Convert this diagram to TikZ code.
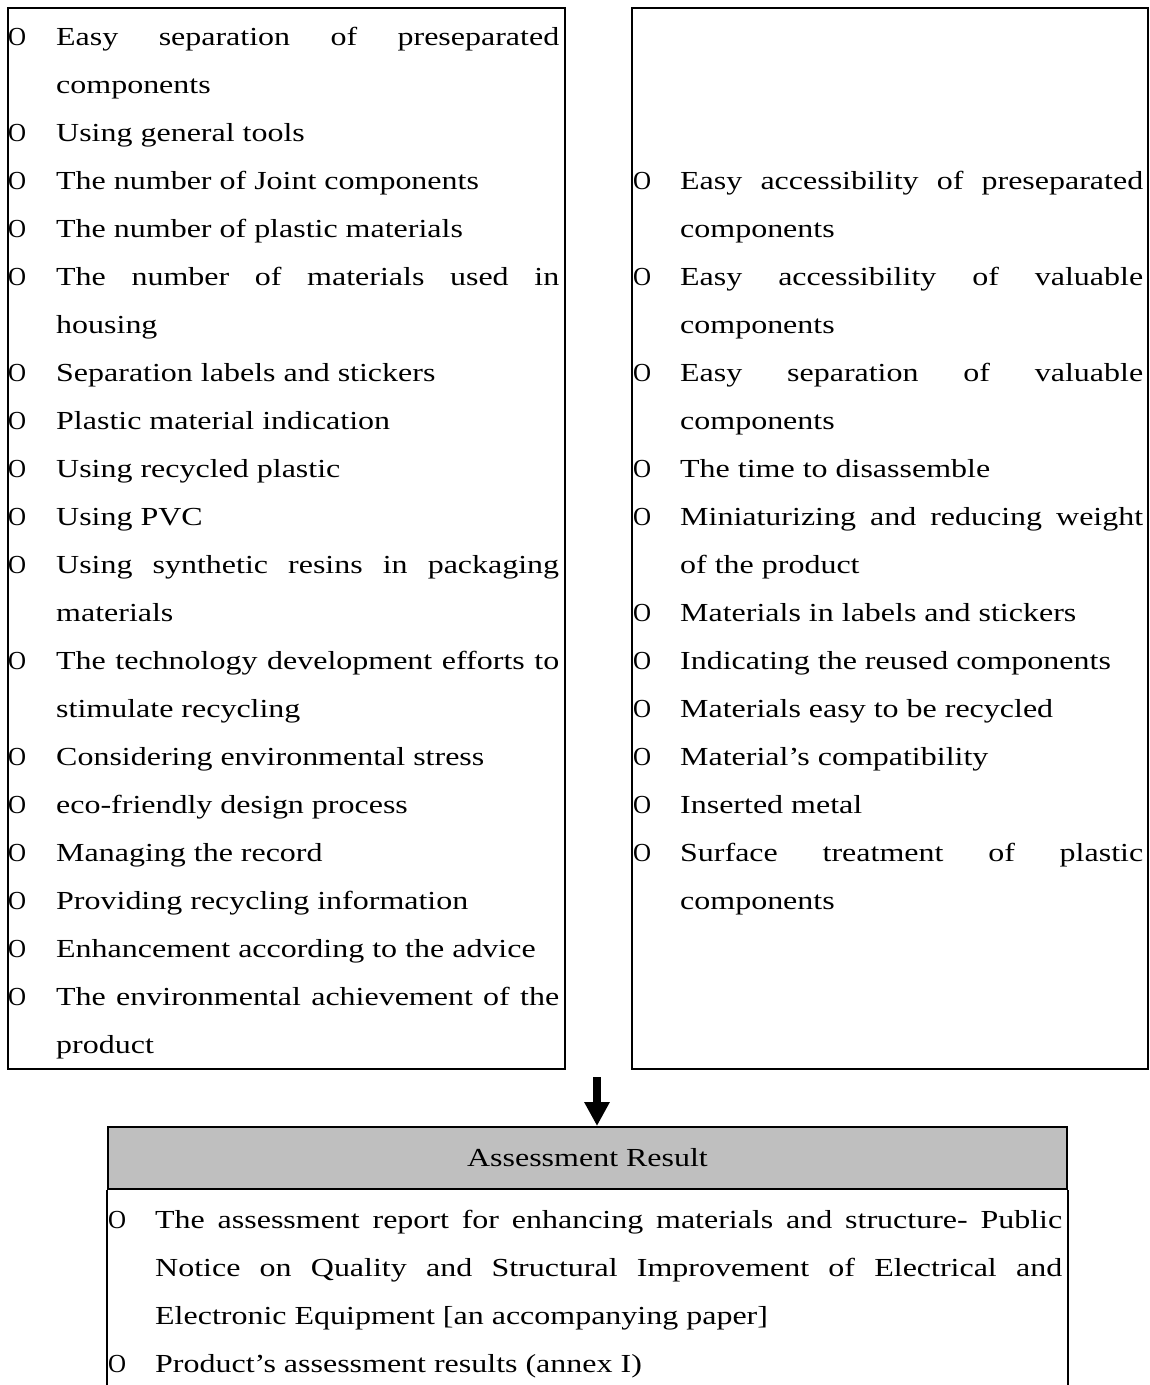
\documentclass[tikz,border=0pt]{standalone}
\usepackage{fontspec}
\setmainfont[FakeStretch=1.23]{Liberation Serif}
\usetikzlibrary{arrows.meta}
\newcommand\jus[2]{\hbox to #1pt{\spaceskip=0.25em plus 1fil\relax #2}}
\newcommand\bul{\scalebox{0.78}[1]{O}}
\begin{document}
\begin{tikzpicture}[x=1pt,y=-1pt,
  frame/.style={draw=black,line width=2pt,inner sep=0pt},
  txt/.style={anchor=base west,inner sep=0pt,font=\fontsize{26}{48}\selectfont},
  hdrbox/.style={draw=black,line width=2pt,fill=black!25,inner sep=0pt,minimum width=959pt,minimum height=62pt,font=\fontsize{26}{48}\selectfont}]
\useasboundingbox (0,0) rectangle (1150,1385);
% boxes
\node[frame,minimum width=557pt,minimum height=1061pt] (leftbox) at (286.5,538.5) {};
\node[frame,minimum width=516pt,minimum height=1061pt] (rightbox) at (890,538.5) {};
% left box text
\node[txt] (b0) at (8,45) {\bul};
\node[txt] (t0) at (56,45) {\jus{503}{Easy separation of preseparated}};
\node[txt] (t1) at (56,93) {components};
\node[txt] (b2) at (8,141) {\bul};
\node[txt] (t2) at (56,141) {Using general tools};
\node[txt] (b3) at (8,189) {\bul};
\node[txt] (t3) at (56,189) {The number of Joint components};
\node[txt] (b4) at (8,237) {\bul};
\node[txt] (t4) at (56,237) {The number of plastic materials};
\node[txt] (b5) at (8,285) {\bul};
\node[txt] (t5) at (56,285) {\jus{503}{The number of materials used in}};
\node[txt] (t6) at (56,333) {housing};
\node[txt] (b7) at (8,381) {\bul};
\node[txt] (t7) at (56,381) {Separation labels and stickers};
\node[txt] (b8) at (8,429) {\bul};
\node[txt] (t8) at (56,429) {Plastic material indication};
\node[txt] (b9) at (8,477) {\bul};
\node[txt] (t9) at (56,477) {Using recycled plastic};
\node[txt] (b10) at (8,525) {\bul};
\node[txt] (t10) at (56,525) {Using PVC};
\node[txt] (b11) at (8,573) {\bul};
\node[txt] (t11) at (56,573) {\jus{503}{Using synthetic resins in packaging}};
\node[txt] (t12) at (56,621) {materials};
\node[txt] (b13) at (8,669) {\bul};
\node[txt] (t13) at (56,669) {\jus{503}{The technology development efforts to}};
\node[txt] (t14) at (56,717) {stimulate recycling};
\node[txt] (b15) at (8,765) {\bul};
\node[txt] (t15) at (56,765) {Considering environmental stress};
\node[txt] (b16) at (8,813) {\bul};
\node[txt] (t16) at (56,813) {eco-friendly design process};
\node[txt] (b17) at (8,861) {\bul};
\node[txt] (t17) at (56,861) {Managing the record};
\node[txt] (b18) at (8,909) {\bul};
\node[txt] (t18) at (56,909) {Providing recycling information};
\node[txt] (b19) at (8,957) {\bul};
\node[txt] (t19) at (56,957) {Enhancement according to the advice};
\node[txt] (b20) at (8,1005) {\bul};
\node[txt] (t20) at (56,1005) {\jus{503}{The environmental achievement of the}};
\node[txt] (t21) at (56,1053) {product};
% right box text
\node[txt] (r3b) at (633,189) {\bul};
\node[txt] (r3) at (680,189) {\jus{463}{Easy accessibility of preseparated}};
\node[txt] (r4) at (680,237) {components};
\node[txt] (r5b) at (633,285) {\bul};
\node[txt] (r5) at (680,285) {\jus{463}{Easy accessibility of valuable}};
\node[txt] (r6) at (680,333) {components};
\node[txt] (r7b) at (633,381) {\bul};
\node[txt] (r7) at (680,381) {\jus{463}{Easy separation of valuable}};
\node[txt] (r8) at (680,429) {components};
\node[txt] (r9b) at (633,477) {\bul};
\node[txt] (r9) at (680,477) {The time to disassemble};
\node[txt] (r10b) at (633,525) {\bul};
\node[txt] (r10) at (680,525) {\jus{463}{Miniaturizing and reducing weight}};
\node[txt] (r11) at (680,573) {of the product};
\node[txt] (r12b) at (633,621) {\bul};
\node[txt] (r12) at (680,621) {Materials in labels and stickers};
\node[txt] (r13b) at (633,669) {\bul};
\node[txt] (r13) at (680,669) {Indicating the reused components};
\node[txt] (r14b) at (633,717) {\bul};
\node[txt] (r14) at (680,717) {Materials easy to be recycled};
\node[txt] (r15b) at (633,765) {\bul};
\node[txt] (r15) at (680,765) {Material’s compatibility};
\node[txt] (r16b) at (633,813) {\bul};
\node[txt] (r16) at (680,813) {Inserted metal};
\node[txt] (r17b) at (633,861) {\bul};
\node[txt] (r17) at (680,861) {\jus{463}{Surface treatment of plastic}};
\node[txt] (r18) at (680,909) {components};
% bottom box
\node[hdrbox] (hdr) at (587.5,1158) {Assessment Result};
\draw[line width=2pt] (hdr.south west) -- ++(0,200);
\draw[line width=2pt] (hdr.south east) -- ++(0,200);
\node[txt] (a0b) at (108,1228) {\bul};
\node[txt] (a0) at (155,1228) {\jus{907}{The assessment report for enhancing materials and structure- Public}};
\node[txt] (a1) at (155,1276) {\jus{907}{Notice on Quality and Structural Improvement of Electrical and}};
\node[txt] (a2) at (155,1324) {Electronic Equipment [an accompanying paper]};
\node[txt] (a3b) at (108,1372) {\bul};
\node[txt] (a3) at (155,1372) {Product’s assessment results (annex I)};
% arrow
\coordinate (arrowstart) at (597,1077);
\draw[line width=8pt,-{Triangle[width=24pt,length=24pt]}] (arrowstart) -- (arrowstart |- hdr.north);
\end{tikzpicture}
\end{document}
